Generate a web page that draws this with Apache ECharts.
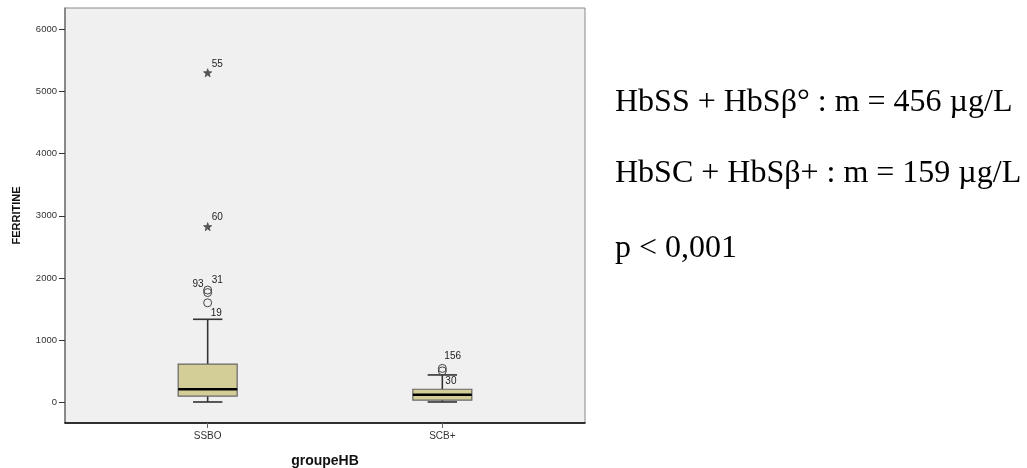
<!DOCTYPE html>
<html>
<head>
<meta charset="utf-8">
<script src="https://cdn.jsdelivr.net/npm/echarts@6/dist/echarts.min.js"></script>
<style>
html,body{margin:0;padding:0;background:#fff;}
#chart{width:1027px;height:468px;}
</style>
</head>
<body>
<div id="chart"></div>
<script>
// ---- data ----
const categories = ['SSBO', 'SCB+'];
const lowWhisker = [5, 5];
const q1 = [100, 35];
const median = [210, 120];
const q3 = [615, 210];
const highWhisker = [1335, 440];
// outliers (circles): [categoryIndex, value, case label]
const outliers = [[0, 1600, '19'], [0, 1805, '31'], [0, 1765, '93'], [1, 545, '156'], [1, 505, '30']];
// extremes (stars): [categoryIndex, value, case label]
const extremes = [[0, 5300, '55'], [0, 2825, '60']];
const yTicks = [0, 1000, 2000, 3000, 4000, 5000, 6000];
const notes = ['HbSS + HbSβ° : m = 456 µg/L', 'HbSC + HbSβ+ : m = 159 µg/L', 'p < 0,001'];

// ---- label placement (style only) ----
const labelOffsets = {
  '55': [4, -9, 'left'], '60': [4, -9, 'left'],
  '31': [4, -10, 'left'], '93': [-4, -8, 'right'], '19': [3, 10, 'left'],
  '156': [2, -12, 'left'], '30': [3, 10, 'left']
};
const noteTops = [87, 158, 233];

const boxData = categories.map((c, i) => [i, lowWhisker[i], q1[i], median[i], q3[i], highWhisker[i]]);

function pointSeries(list, symbol, size, fill, border) {
  return {
    type: 'scatter',
    symbol: symbol,
    symbolSize: size,
    z: 5,
    itemStyle: { color: fill, borderColor: border, borderWidth: 1, opacity: 1 },
    data: list.map(d => {
      const o = labelOffsets[d[2]];
      return {
        value: [d[0], d[1]],
        label: {
          show: true, formatter: d[2], position: 'inside',
          offset: [o[0], o[1]],
          align: o[2], verticalAlign: 'middle',
          color: '#222', fontSize: 10, fontFamily: 'Liberation Sans'
        }
      };
    })
  };
}

const starPath = 'path://M50,0 L61,35 L98,35 L68,57 L79,91 L50,70 L21,91 L32,57 L2,35 L39,35 Z';

const chart = echarts.init(document.getElementById('chart'), null, { renderer: 'canvas' });
chart.setOption({
  animation: false,
  backgroundColor: '#ffffff',
  grid: {
    left: 65, top: 8, right: 442, bottom: 45,
    outerBoundsMode: 'none', containLabel: false,
    show: true, backgroundColor: '#F0F0F0', borderColor: '#8a8a8a', borderWidth: 1
  },
  xAxis: {
    type: 'value', min: -0.608, max: 1.608,
    name: 'groupeHB', nameLocation: 'middle', nameGap: 31,
    nameTextStyle: { fontFamily: 'Liberation Sans', fontWeight: 'bold', fontSize: 14, color: '#111' },
    axisLine: { show: true, onZero: false, lineStyle: { color: '#000', width: 1.5 } },
    axisTick: { show: true, inside: false, customValues: [0, 1], length: 5, lineStyle: { color: '#666' } },
    axisLabel: { customValues: [0, 1], formatter: v => categories[Math.round(v)], fontFamily: 'Liberation Sans', fontSize: 10, color: '#333', margin: 8 },
    splitLine: { show: false }
  },
  yAxis: {
    type: 'value', min: -333, max: 6342,
    name: 'FERRITINE', nameLocation: 'middle', nameGap: 43,
    nameTextStyle: { fontFamily: 'Liberation Sans', fontWeight: 'bold', fontSize: 11, color: '#111' },
    axisLine: { show: true, onZero: false, lineStyle: { color: '#777', width: 1.5 } },
    axisTick: { show: true, inside: false, customValues: yTicks, length: 6, lineStyle: { color: '#333' } },
    axisLabel: { customValues: yTicks, formatter: v => String(v), fontFamily: 'Liberation Sans', fontSize: 9.5, color: '#333', margin: 8 },
    splitLine: { show: false }
  },
  series: [
    {
      type: 'custom',
      z: 3,
      data: boxData,
      renderItem: function (params, api) {
        const x = api.value(0);
        const pLow = api.coord([x, api.value(1)]);
        const pQ1 = api.coord([x, api.value(2)]);
        const pMed = api.coord([x, api.value(3)]);
        const pQ3 = api.coord([x, api.value(4)]);
        const pHigh = api.coord([x, api.value(5)]);
        const cx = pMed[0];
        const half = 29.5, capHalf = 14.7;
        const wStyle = { stroke: '#333', lineWidth: 1.6 };
        return {
          type: 'group',
          children: [
            { type: 'line', shape: { x1: cx, y1: pQ3[1], x2: cx, y2: pHigh[1] }, style: wStyle },
            { type: 'line', shape: { x1: cx, y1: pLow[1], x2: cx, y2: pQ1[1] }, style: wStyle },
            { type: 'line', shape: { x1: cx - capHalf, y1: pHigh[1], x2: cx + capHalf, y2: pHigh[1] }, style: wStyle },
            { type: 'line', shape: { x1: cx - capHalf, y1: pLow[1], x2: cx + capHalf, y2: pLow[1] }, style: wStyle },
            { type: 'rect', shape: { x: cx - half, y: pQ3[1], width: 2 * half, height: pQ1[1] - pQ3[1] },
              style: { fill: '#D3CE97', stroke: '#666', lineWidth: 1.2 } },
            { type: 'line', shape: { x1: cx - half, y1: pMed[1], x2: cx + half, y2: pMed[1] },
              style: { stroke: '#000', lineWidth: 2.5 } }
          ]
        };
      }
    },
    pointSeries(outliers, 'circle', 8, 'rgba(240,240,240,0)', '#444'),
    pointSeries(extremes, starPath, 8, '#555', '#555')
  ],
  graphic: notes.map((t, i) => ({
    type: 'text',
    left: 615, top: noteTops[i],
    style: { text: t, font: '32px "Liberation Serif"', fill: '#000' }
  }))
});
</script>
</body>
</html>
